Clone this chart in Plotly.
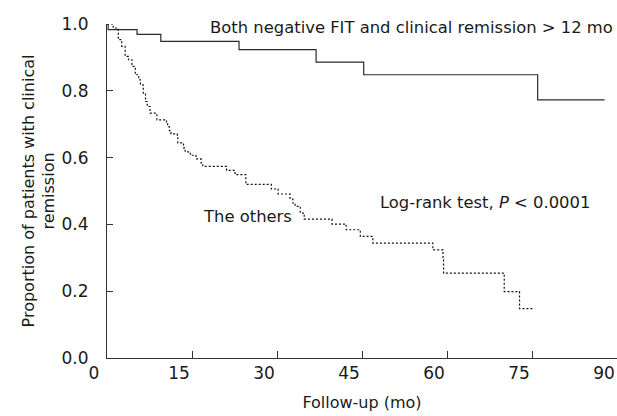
import plotly.graph_objects as go

# Group 1: both negative FIT and clinical remission > 12 mo
t_fit = [0, 0.2, 5.3, 9.5, 23.3, 36.9, 45.3, 76.0, 87.8]
s_fit = [1.0, 0.983, 0.969, 0.948, 0.923, 0.886, 0.848, 0.773, 0.773]

# Group 2: the others
t_oth = [0, 1.1, 2.0, 2.6, 3.2, 3.8, 4.4, 5.0, 5.6, 5.9, 6.4, 6.8, 7.1, 7.6, 8.8,
         10.5, 10.7, 11.0, 11.3, 12.4, 12.5, 13.5, 13.8, 14.7, 15.7, 16.6, 16.9,
         21.1, 22.6, 24.5, 29.0, 30.2, 32.3, 32.8, 33.2, 34.1, 34.8, 39.7, 42.2,
         44.7, 46.9, 57.5, 59.3, 59.4, 70.1, 72.8, 75.3]
s_oth = [1.0, 0.988, 0.953, 0.933, 0.903, 0.893, 0.873, 0.848, 0.833, 0.818, 0.793,
         0.768, 0.753, 0.733, 0.713, 0.701, 0.693, 0.681, 0.671, 0.662, 0.644, 0.629,
         0.617, 0.607, 0.596, 0.584, 0.574, 0.562, 0.549, 0.520, 0.506, 0.491, 0.476,
         0.464, 0.454, 0.434, 0.416, 0.401, 0.384, 0.364, 0.344, 0.324, 0.299, 0.254,
         0.199, 0.148, 0.148]

x_ticks = [0, 15, 30, 45, 60, 75, 90]
y_ticks = [0.0, 0.2, 0.4, 0.6, 0.8, 1.0]
y_tick_text = ["0.0", "0.2", "0.4", "0.6", "0.8", "1.0"]

FONT = "DejaVu Sans"
INK = "#1a1a1a"
AX = "#333333"

fig = go.Figure()
fig.add_trace(go.Scatter(x=t_fit, y=s_fit, mode="lines", line_shape="hv",
                         line=dict(color="#2a2a2a", width=1.2), showlegend=False))
fig.add_trace(go.Scatter(x=t_oth, y=s_oth, mode="lines", line_shape="hv",
                         line=dict(color="#111111", width=1.2, dash="2px,2px"),
                         showlegend=False))

fig.add_annotation(x=89.7, y=0.99, xref="x", yref="y", xanchor="right", yanchor="middle",
                   text="Both negative FIT and clinical remission > 12 mo", showarrow=False,
                   font=dict(family=FONT, size=16.4, color=INK))
fig.add_annotation(x=16.6, y=0.425, xref="x", yref="y", xanchor="left", yanchor="middle",
                   text="The others", showarrow=False,
                   font=dict(family=FONT, size=16.4, color=INK))
fig.add_annotation(x=47.9, y=0.465, xref="x", yref="y", xanchor="left", yanchor="middle",
                   text="Log-rank test, <i>P</i> < 0.0001", showarrow=False,
                   font=dict(family=FONT, size=16.4, color=INK))

fig.update_layout(
    width=617, height=416,
    margin=dict(l=107, r=0, t=24, b=58),
    paper_bgcolor="white", plot_bgcolor="white",
    font=dict(family=FONT, size=16, color=INK),
    xaxis=dict(range=[0, 90], tickvals=x_ticks, ticktext=[str(v) for v in x_ticks],
               ticks="inside", ticklen=7, tickcolor=AX, showline=True, linecolor=AX,
               linewidth=1, showgrid=False, zeroline=False, ticklabelshift=-13,
               tickfont=dict(family=FONT, size=17, color=INK),
               title=dict(text="Follow-up (mo)", font=dict(family=FONT, size=16, color=INK),
                          standoff=14)),
    yaxis=dict(range=[0, 1], tickvals=y_ticks, ticktext=y_tick_text,
               ticks="inside", ticklen=6, tickcolor=AX, showline=True, linecolor=AX,
               linewidth=1, showgrid=False, zeroline=False, ticklabelstandoff=14,
               tickfont=dict(family=FONT, size=17, color=INK),
               title=dict(text="Proportion of patients with clinical<br>remission",
                          font=dict(family=FONT, size=16, color=INK), standoff=2)),
)

fig.write_html("out.html")
